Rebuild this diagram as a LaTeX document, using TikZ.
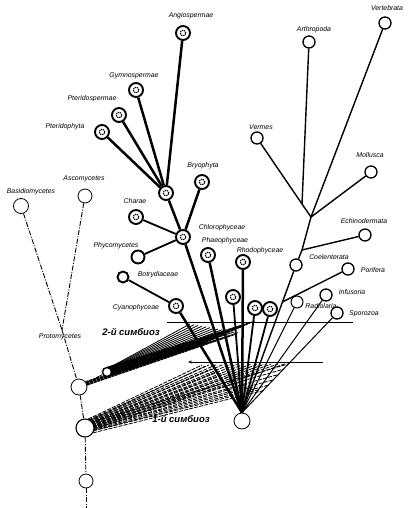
\documentclass[tikz,border=0pt]{standalone}
\usepackage{fontspec}
\setmainfont{Liberation Sans}
\usetikzlibrary{calc,arrows.meta}
\pgfdeclarelayer{bg}
\pgfsetlayers{bg,main}
\begin{document}
\begin{tikzpicture}[x=1pt,y=-1pt,
  lab/.style={font=\fontsize{6.9}{7}\selectfont\itshape, inner sep=0},
  sym/.style={font=\fontsize{9.5}{10}\selectfont\bfseries\itshape, inner sep=0},
  plant/.style={circle, draw, line width=1.9pt, minimum size=14pt, inner sep=0, fill=white,
    path picture={\draw[dash pattern=on 1.2pt off 1pt, line width=1.2pt] (path picture bounding box.center) circle (2.8pt);}},
  pring/.style={circle, draw, line width=1.9pt, minimum size=13pt, inner sep=0, fill=white},
  anim/.style={circle, draw, line width=1.3pt, minimum size=12pt, inner sep=0, fill=white},
  fung/.style={circle, draw, line width=0.8pt, minimum size=14pt, inner sep=0, fill=white},
  ddot/.style={line width=0.9pt, dash pattern=on 5pt off 1.5pt on 1pt off 1.5pt},
  pl/.style={line width=2.5pt},
  pm/.style={line width=1.8pt},
  an/.style={line width=1.4pt},
  ar/.style={line width=1pt},
  bone/.style={line width=0.8pt, dash pattern=on 4pt off 1.2pt},
  btwo/.style={line width=0.85pt, dash pattern=on 3pt off 0.7pt},
]
\useasboundingbox (0,0) rectangle (411,508);

% ---------- plant nodes ----------
\node[plant] (ang) at (183,33) {};
\node[plant] (gym) at (136,90) {};
\node[plant] (pts) at (119,115) {};
\node[plant] (ptp) at (102,132) {};
\node[plant] (jtop) at (166,193) {};
\node[plant] (bry) at (202,182) {};
\node[plant] (cha) at (136,217) {};
\node[plant] (chl) at (183,237) {};
\node[pring] (phy) at (138,257) {};
\node[pring, minimum size=11pt] (botr) at (123,277) {};
\node[plant] (cya) at (176,306) {};
\node[plant] (phae) at (208,255) {};
\node[plant] (rho) at (243,262) {};
\node[plant] (c1) at (233,297) {};
\node[plant] (c2) at (255,308) {};
\node[plant] (c3) at (270,309) {};

% ---------- animal nodes ----------
\node[anim] (art) at (309,42) {};
\node[anim] (vert) at (385,23) {};
\node[anim] (verm) at (257,138) {};
\node[anim] (mol) at (371,172) {};
\node[anim] (ech) at (365,235) {};
\node[anim] (coel) at (296,265) {};
\node[anim] (por) at (348,269) {};
\node[anim] (inf) at (326,295) {};
\node[anim, line width=1pt] (rad) at (297,302) {};
\node[anim] (spo) at (337,313) {};
\node[fung, minimum size=16pt] (root) at (242,421) {};

\coordinate (J1) at (302,204);
\coordinate (J2) at (311,217);
\coordinate (E) at (302,250);
\coordinate (PJ) at ($(coel)!0.25!(root.north)$);

% ---------- fungi / left chain ----------
\node[fung, minimum size=15pt] (basid) at (21,206) {};
\node[fung] (asco) at (85,196) {};
\coordinate (P) at (62,330);
\node[fung, minimum size=16pt] (L1) at (79,387) {};
\node[fung, minimum size=18pt, line width=1.1pt] (L2) at (85,428) {};
\node[fung] (L3) at (86,481) {};
\coordinate (bot) at (86,508);
\node[circle, draw, line width=1.4pt, fill=white, minimum size=9pt, inner sep=0] (S) at (107,372) {};

% symbiosis guide lines
\coordinate (h2a) at (167,322);
\coordinate (h2b) at (353,322);
\coordinate (h1a) at (188,362);
\coordinate (h1b) at (323,362);
\coordinate (e1) at (202,365);
\coordinate (e2) at ($(spo)!0.51!(root.north)$);
\coordinate (e3) at ($(spo)!0.78!(root.north)$);
\coordinate (f1) at (255,321);
\coordinate (f2) at (190,324);
\coordinate (g1) at (200,345);
\coordinate (g2) at (240,333);

\begin{pgfonlayer}{bg}
  % plants
  \foreach \n in {ang,gym,pts,ptp} \draw[pl] (\n) -- (jtop);
  \draw[pl] (jtop) -- (chl);
  \draw[pl] (bry) -- (chl);
  \draw[pm] (cha) -- (chl);
  \draw[pm] (phy) -- (chl);
  \draw[pl] (chl) -- (root.north);
  \draw[pl] (cya) -- (root.north);
  \draw[pm] (botr) -- (cya);
  \draw[pl] (phae) -- (root.north);
  \draw[pl] (rho) -- (root.north);
  \draw[pm] (c1) -- (root.north);
  \draw[pm] (c2) -- (root.north);
  \draw[pm] (c3) -- (root.north);
  % animals
  \draw[an] (art) -- (J1);
  \draw[an] (verm) -- (J1);
  \draw[an] (J1) -- (J2);
  \draw[an] (vert) -- (J2);
  \draw[an] (mol) -- (J2);
  \draw[an] (J2) -- (E) -- (coel);
  \draw[an] (ech) -- (E);
  \draw[an] (coel) -- (root.north);
  \draw[an] (por) -- (PJ);
  \draw[ar] (rad) -- (root.north);
  \draw[ar] (inf) -- (root.north);
  \draw[ar] (spo) -- (root.north);
  % fungi chain
  \draw[ddot] (basid) -- (P);
  \draw[ddot] (asco) -- (P);
  \draw[ddot] (P) -- (L1);
  \draw[ddot] (L1) -- (L2);
  \draw[ddot] (L2) -- (L3);
  \draw[ddot] (L3) -- (bot);
  % guide lines
  \draw[line width=0.9pt] (h2a) -- (h2b);
  \draw[line width=0.9pt, -{Stealth[length=4pt,width=3pt]}] (h1b) -- (h1a);
  % 1st symbiosis
  \foreach \t in {0,0.08,...,1.01}
    \draw[bone] ($(L2.70)!\t!(L2.-10)$) -- ($(e1)!\t!(e2)$);
  \foreach \t in {0,0.2,...,1.01}
    \draw[bone] ($(L2.40)!\t!(L2.-30)$) -- ($(e2)!\t!(e3)$);
  \foreach \t in {0.05,0.15,...,1.01}
    \draw[bone] ($(L2.60)!\t!(L2.-20)$) -- ($(e1)!\t!(e3)$);
  % 2nd symbiosis
  \draw[btwo] (L1) -- (S);
  \foreach \t in {0,0.05,...,1.01}
    \draw[btwo] ($(S.80)!\t!(S.-100)$) -- ($(f1)!\t!(g1)$);
  \foreach \t in {0,0.08,...,1.01}
    \draw[line width=0.8pt] ($(S.60)!\t!(S.-120)$) -- ($(f2)!\t!(g2)$);
  \foreach \t in {0,0.15,...,1.01}
    \draw[btwo] ($(L1.40)!\t!(L1.10)$) -- ($(g1)!\t!(g2)$);
\end{pgfonlayer}

% ---------- labels ----------
\node[lab] (tang) at (191,16) {Angiospermae};
\node[lab] (tgym) at (134,76) {Gymnospermae};
\node[lab] (tpts) at (92,99) {Pteridospermae};
\node[lab] (tptp) at (65,127) {Pteridophyta};
\node[lab] (tbry) at (203,166) {Bryophyta};
\node[lab] (tcha) at (135,201) {Charae};
\node[lab] (tchl) at (222,228) {Chlorophyceae};
\node[lab] (tphy) at (116,246) {Phycomycetes};
\node[lab] (tphae) at (225,241) {Phaeophyceae};
\node[lab] (trho) at (260,251) {Rhodophyceae};
\node[lab] (tbotr) at (158,275) {Botrydiaceae};
\node[lab] (tcya) at (136,308) {Cyanophyceae};
\node[lab] (tart) at (314,30) {Arthropoda};
\node[lab] (tvert) at (387,8) {Vertebrata};
\node[lab] (tverm) at (261,127) {Vermes};
\node[lab] (tmol) at (370,155) {Mollusca};
\node[lab] (tech) at (364,221) {Echinodermata};
\node[lab] (tcoel) at (329,257) {Coelenterata};
\node[lab] (tpor) at (373,270) {Porifera};
\node[lab] (tinf) at (352,292) {Infusoria};
\node[lab] (trad) at (321,306) {Radiolaria};
\node[lab] (tspo) at (364,314) {Sporozoa};
\node[lab] (tbas) at (31,192) {Basidiomycetes};
\node[lab] (tasc) at (84,179) {Ascomycetes};
\node[lab] (tpro) at (60,337) {Protomycetes};
\node[sym] (ts2) at (131,332) {2-й симбиоз};
\node[sym] (ts1) at (181,419) {1-й симбиоз};
\end{tikzpicture}
\end{document}
